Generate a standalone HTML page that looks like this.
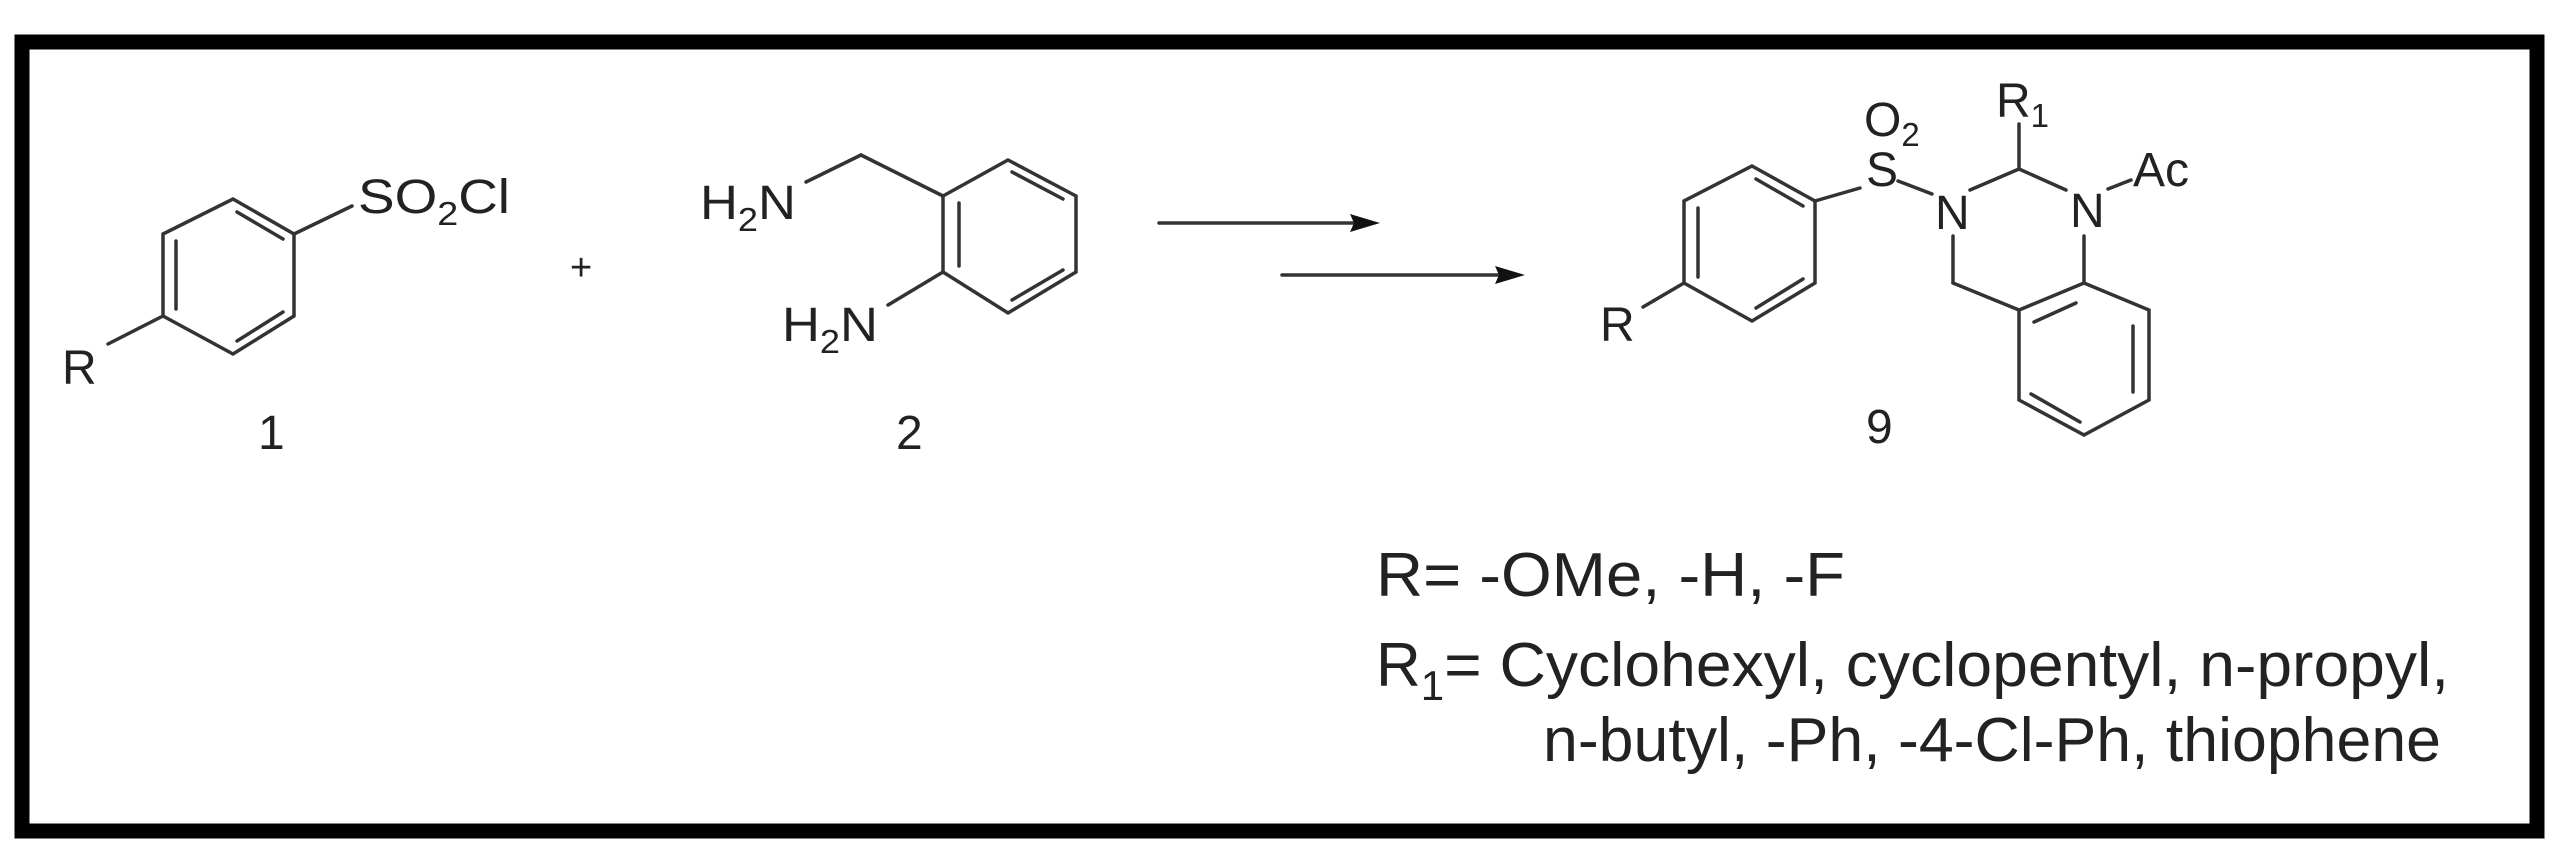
<!DOCTYPE html>
<html><head><meta charset="utf-8"><style>html,body{margin:0;padding:0;background:#fff;}svg{display:block}</style></head>
<body>
<svg width="2560" height="853" viewBox="0 0 2560 853" xmlns="http://www.w3.org/2000/svg" font-family="Liberation Sans, sans-serif" fill="#222">
<rect x="22" y="42" width="2515" height="789" fill="none" stroke="#000" stroke-width="15"/>
<g stroke="#333" stroke-width="3.5" fill="none" stroke-linecap="round">
<polygon points="233,199 294,234 294,316 233,354 163,316 163,234"/>
<line x1="237" y1="212" x2="283" y2="239"/>
<line x1="176" y1="241" x2="176" y2="309"/>
<line x1="237" y1="341" x2="283" y2="312"/>
<line x1="294" y1="234" x2="352" y2="206"/>
<line x1="163" y1="316" x2="108" y2="344"/>
<polygon points="1008,160 1076,196 1076,272 1008,313 943,272 943,196"/>
<line x1="1012" y1="172" x2="1063" y2="199"/>
<line x1="959" y1="203" x2="959" y2="266"/>
<line x1="1012" y1="300" x2="1063" y2="270"/>
<line x1="943" y1="196" x2="861" y2="155"/>
<line x1="861" y1="155" x2="806" y2="182"/>
<line x1="943" y1="272" x2="888" y2="305"/>
<line x1="1159" y1="223" x2="1360" y2="223"/>
<line x1="1282" y1="275" x2="1505" y2="275"/>
<polygon points="1752,166 1815,201 1815,283 1752,321 1684,283 1684,201"/>
<line x1="1756" y1="179" x2="1803" y2="206"/>
<line x1="1698" y1="208" x2="1698" y2="277"/>
<line x1="1756" y1="308" x2="1803" y2="279"/>
<line x1="1815" y1="201" x2="1860" y2="188"/>
<line x1="1684" y1="283" x2="1643" y2="307"/>
<line x1="1898" y1="181" x2="1932" y2="194"/>
<line x1="1970" y1="190" x2="2019" y2="169"/>
<line x1="2019" y1="169" x2="2019" y2="124"/>
<line x1="2019" y1="169" x2="2066" y2="190"/>
<line x1="2108" y1="189" x2="2131" y2="180"/>
<line x1="1953" y1="236" x2="1953" y2="283"/>
<line x1="1953" y1="283" x2="2019" y2="310"/>
<line x1="2084" y1="236" x2="2084" y2="283"/>
<polygon points="2084,283 2149,310 2149,400 2084,435 2019,400 2019,310"/>
<line x1="2034" y1="322" x2="2076" y2="303"/>
<line x1="2133" y1="326" x2="2133" y2="392"/>
<line x1="2031" y1="394" x2="2080" y2="422"/>
</g>
<polygon points="1380,223 1350,214 1354,223 1350,232" fill="#111"/>
<polygon points="1525,275 1495,266 1499,275 1495,284" fill="#111"/>
<g font-size="48">
<text x="358" y="213" textLength="152" lengthAdjust="spacingAndGlyphs">SO<tspan font-size="33" dy="12">2</tspan><tspan dy="-12">Cl</tspan></text>
<text x="62" y="384">R</text>
<text x="258" y="449">1</text>
<text x="570" y="280" font-size="38">+</text>
<text x="700" y="219" textLength="96" lengthAdjust="spacingAndGlyphs">H<tspan font-size="33" dy="12">2</tspan><tspan dy="-12">N</tspan></text>
<text x="782" y="341" textLength="96" lengthAdjust="spacingAndGlyphs">H<tspan font-size="33" dy="12">2</tspan><tspan dy="-12">N</tspan></text>
<text x="896" y="449">2</text>
<text x="1864" y="136">O<tspan font-size="33" dy="10">2</tspan></text>
<text x="1866" y="186">S</text>
<text x="1935" y="229">N</text>
<text x="1996" y="117">R<tspan font-size="33" dy="10">1</tspan></text>
<text x="2070" y="227">N</text>
<text x="2133" y="186">Ac</text>
<text x="1600" y="341">R</text>
<text x="1866" y="443">9</text>
</g>
<g font-size="62">
<text x="1376" y="596" textLength="469" lengthAdjust="spacingAndGlyphs">R= -OMe, -H, -F</text>
<text x="1376" y="686">R<tspan font-size="42" dy="14">1</tspan><tspan dy="-14" textLength="1005" lengthAdjust="spacingAndGlyphs">= Cyclohexyl, cyclopentyl, n-propyl,</tspan></text>
<text x="1543" y="761" textLength="898" lengthAdjust="spacingAndGlyphs">n-butyl, -Ph, -4-Cl-Ph, thiophene</text>
</g>
</svg>
</body></html>
